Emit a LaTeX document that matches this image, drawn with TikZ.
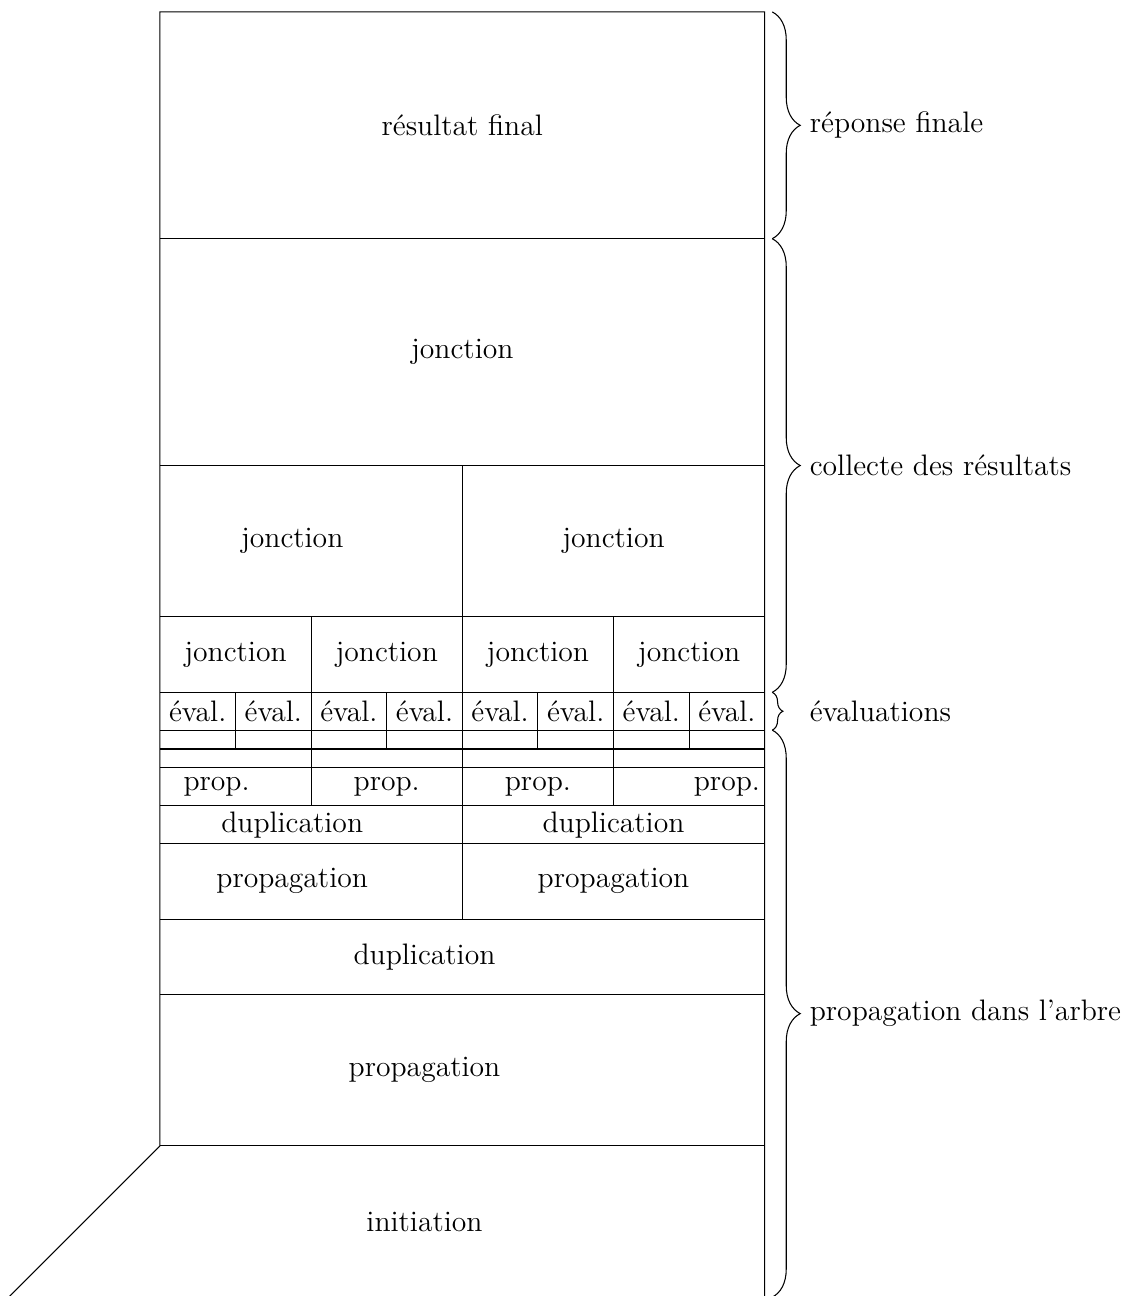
\documentclass[tikz,border=0pt]{standalone}
\usetikzlibrary{decorations.pathreplacing}

\tikzset{
  lbl/.style={inner sep=0pt},
  phaselbl/.style={anchor=west, inner sep=0pt},
  bracedeco/.style={decorate, decoration={brace, amplitude=#1}},
}
\newcommand{\drawPhase}[5]{%
  % name, top, bottom, amplitude, label
  \draw[bracedeco=#4] (16.2,#2) -- (16.2,#3);
  \node[phaselbl] (#1) at (17.18,{(#2+#3)/2}) {#5};
}

\begin{document}
\begin{tikzpicture}[x=0.5cm, y=0.5cm, font=\fontsize{11.15}{13.4}\selectfont]
  \useasboundingbox (-4.23,0.03) rectangle (25.61,34.316);

  % -- outline --
  \draw (-4,0) -- (0,4) -- (0,34) -- (16,34) -- (16,0);
  % -- rows --
  \foreach \y in {4,8,10,12,13,14,14.5,15,16,18,22,28}
    \draw (0,\y) -- (16,\y);
  % -- columns --
  \draw (8,10) -- (8,22);
  \foreach \x in {4,12}
    \draw (\x,13) -- (\x,18);
  \foreach \x in {2,6,10,14}
    \draw (\x,14.5) -- (\x,16);

  % -- cell texts --
  \node[lbl] (final) at (8,31) {résultat final};
  \node[lbl] (jn) at (8,25) {jonction};
  \node[lbl] (jnL) at (3.5,20) {jonction};
  \node[lbl] (jnR) at (12,20) {jonction};
  \foreach \i in {0,...,3}
    \node[lbl] (jq\i) at ({2+4*\i},17) {jonction};
  \foreach \i in {0,...,7}
    \node[lbl] (ev\i) at ({1+2*\i},15.5) {éval.};
  \node[lbl] (pp0) at (1.5,13.5) {prop.};
  \node[lbl] (pp1) at (6,13.5) {prop.};
  \node[lbl] (pp2) at (10,13.5) {prop.};
  \node[lbl] (pp3) at (15,13.5) {prop.};
  \node[lbl] (dupL) at (3.5,12.5) {duplication};
  \node[lbl] (dupR) at (12,12.5) {duplication};
  \node[lbl] (propL) at (3.5,11) {propagation};
  \node[lbl] (propR) at (12,11) {propagation};
  \node[lbl] (dup) at (7,9) {duplication};
  \node[lbl] (prop) at (7,6) {propagation};
  \node[lbl] (init) at (7,2) {initiation};

  % -- phases --
  \drawPhase{reponse}{34}{28}{0.37cm}{réponse finale}
  \drawPhase{collecte}{28}{16}{0.37cm}{collecte des résultats}
  \drawPhase{evals}{16}{15}{4pt}{évaluations}
  \drawPhase{arbre}{15}{0}{0.37cm}{propagation dans l’arbre}

\end{tikzpicture}
\end{document}
